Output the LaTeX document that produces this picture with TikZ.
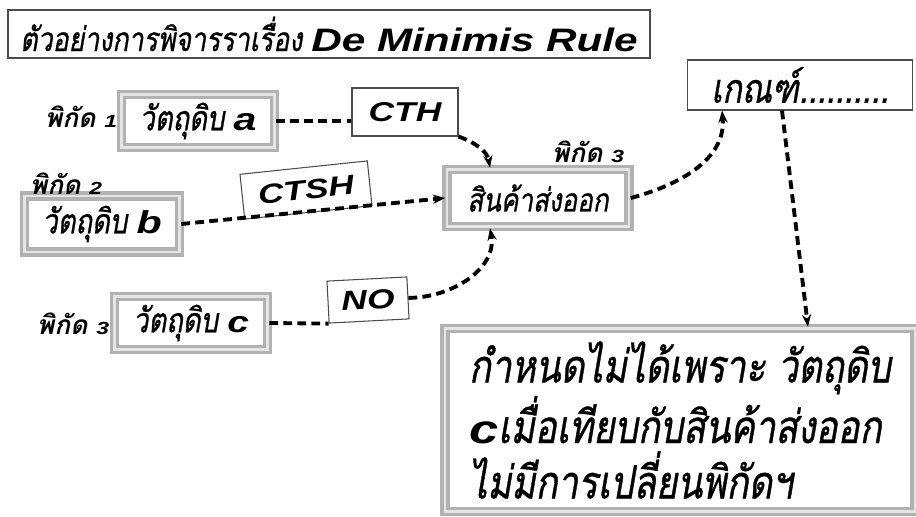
\documentclass[tikz,border=0pt]{standalone}
\usepackage{fontspec}
\setmainfont{Liberation Sans}
\newfontfamily\thai[Script=Thai,FakeStretch=0.8,FakeBold=0.8]{Loma Oblique}
\newfontfamily\thaib[Script=Thai]{Loma Bold Oblique}
\newfontfamily\latw[FakeStretch=1.3]{Liberation Sans Bold Italic}
\newcommand{\lat}[2]{{\latw\fontsize{#1}{#1}\selectfont #2}}
\usetikzlibrary{arrows.meta}

\tikzset{
  rawbox/.style={draw=gray!60, line width=2pt, double=gray!20, double distance=1.3pt,
                 fill=white, inner sep=0pt, font=\thai\fontsize{19.5}{19.5}\selectfont},
  plainbox/.style={draw=black!70, line width=0.6pt, fill=white, inner sep=0pt},
  hslabel/.style={font=\thaib\fontsize{15}{15}\selectfont},
  flow/.style={dash pattern=on 5pt off 3pt, line width=2.2pt, black}
}

\begin{document}
\begin{tikzpicture}[x=0.02cm, y=-0.02cm]
  \useasboundingbox (0,0) rectangle (916,517);

  % title
  \node[plainbox, minimum width=642*0.02cm, minimum height=48*0.02cm] (title) at (329,34)
     {\thai\fontsize{19}{19}\selectfont ตัวอย่างการพิจารราเรื่อง \lat{18.5}{De Minimis Rule}};

  % raw materials
  \node[rawbox, minimum width=153*0.02cm, minimum height=53*0.02cm] (rawa) at (198,121)
     {วัตถุดิบ \lat{18}{a}};
  \node[rawbox, minimum width=155*0.02cm, minimum height=56*0.02cm] (rawb) at (102,224)
     {วัตถุดิบ \lat{18}{b}};
  \node[rawbox, minimum width=153*0.02cm, minimum height=53*0.02cm] (rawc) at (191,323)
     {วัตถุดิบ \lat{17}{c}};
  \node[rawbox, minimum width=182*0.02cm, minimum height=57*0.02cm,
        font=\thai\fontsize{18.5}{18.5}\selectfont] (export) at (538,198) {สินค้าส่งออก};

  \node[hslabel] (hsa) at (81,117) {พิกัด \lat{10}{1}};
  \node[hslabel] (hsb) at (66,184) {พิกัด \lat{10}{2}};
  \node[hslabel] (hsc) at (73,324) {พิกัด \lat{10}{3}};
  \node[hslabel] (hse) at (588,152) {พิกัด \lat{10}{3}};

  % rules
  \node[plainbox, minimum width=106*0.02cm, minimum height=48*0.02cm] (cth) at (405,112)
     {\lat{15.5}{CTH}};
  \node[plainbox, minimum width=128*0.02cm, minimum height=45*0.02cm, rotate=6] (ctsh) at (306,190)
     {\lat{15.5}{CTSH}};

  % result boxes
  \node[plainbox, minimum width=225*0.02cm, minimum height=50*0.02cm] (crit) at (800,85)
     {\thai\fontsize{23}{23}\selectfont เกณฑ์..........};
  \node[rawbox, minimum width=470*0.02cm, minimum height=183*0.02cm, align=left,
        font=\thai\fontsize{26}{31.5}\selectfont] (note) at (680,420)
     {กำหนดไม่ได้เพราะ วัตถุดิบ\\\lat{23}{c}เมื่อเทียบกับสินค้าส่งออก\\ไม่มีการเปลี่ยนพิกัดฯ};

  % connectors
  \draw[flow] (rawa.east) -- (cth.west |- rawa.east);
  \draw[flow, -{Stealth[length=7pt]}] (cth.south east) to[out=-20, in=100] (export.north west -| 490,0);
  \draw[flow, -{Stealth[length=7pt]}] (rawb.east) -- (export.west);
  \node[plainbox, minimum width=80*0.02cm, minimum height=42*0.02cm, rotate=3] (no) at (368,300)
     {\lat{15.5}{NO}};
  \draw[flow] (rawc.east) -- (no.south west);
  \draw[flow, -{Stealth[length=7pt]}] (no.east) to[out=0, in=-80] (export.south west -| 490,0);
  \draw[flow, -{Stealth[length=7pt]}] (export.east) to[out=15, in=-85] (crit.south west -| 722,0);
  \draw[flow, -{Stealth[length=7pt]}] (crit.south west -| 782,0) -- (note.north west -| 808,0);
\end{tikzpicture}
\end{document}
